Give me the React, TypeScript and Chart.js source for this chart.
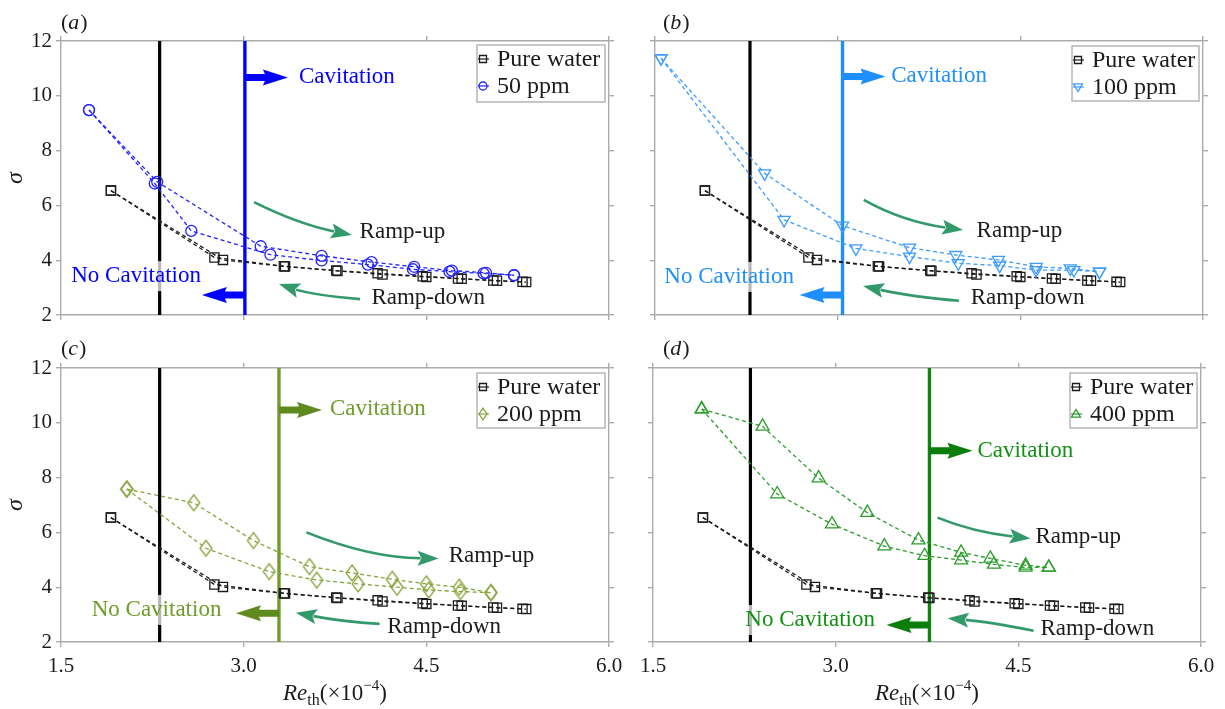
import { useEffect, useRef } from "react";
import { Chart, registerables } from "chart.js";

Chart.register(...registerables);

type Pt = [number, number];

// Re_th (x10^-4) vs cavitation number sigma; each fluid has a ramp-up and a ramp-down branch
const waterUp: Pt[] = [[1.91, 6.54], [2.76, 4.10], [3.33, 3.78], [3.76, 3.62], [4.10, 3.52], [4.47, 3.41], [4.76, 3.33], [5.05, 3.26], [5.29, 3.21]];
const waterDown: Pt[] = [[1.91, 6.54], [2.83, 4.01], [3.34, 3.77], [3.77, 3.61], [4.14, 3.48], [4.50, 3.39], [4.79, 3.32], [5.08, 3.25], [5.32, 3.20]];

const ppm50Up: Pt[] = [[1.73, 9.48], [2.29, 6.86], [3.14, 4.51], [3.64, 4.16], [4.05, 3.93], [4.40, 3.76], [4.71, 3.62], [4.99, 3.54], [5.22, 3.45]];
const ppm50Down: Pt[] = [[1.73, 9.48], [2.27, 6.80], [2.57, 5.07], [3.22, 4.20], [3.64, 3.99], [4.02, 3.84], [4.39, 3.67], [4.69, 3.58], [4.97, 3.52], [5.22, 3.45]];

const ppm100Up: Pt[] = [[1.55, 11.37], [2.40, 7.17], [3.04, 5.26], [3.59, 4.46], [3.97, 4.19], [4.32, 4.01], [4.63, 3.76], [4.91, 3.70], [5.15, 3.58]];
const ppm100Down: Pt[] = [[1.55, 11.37], [2.56, 5.47], [3.15, 4.43], [3.59, 4.13], [3.99, 3.89], [4.33, 3.80], [4.63, 3.64], [4.94, 3.64], [5.15, 3.58]];

const ppm200Up: Pt[] = [[2.04, 7.58], [2.59, 7.08], [3.08, 5.70], [3.54, 4.75], [3.89, 4.52], [4.22, 4.29], [4.50, 4.12], [4.77, 4.00], [5.03, 3.80]];
const ppm200Down: Pt[] = [[2.04, 7.58], [2.69, 5.42], [3.21, 4.57], [3.60, 4.26], [3.94, 4.12], [4.26, 4.00], [4.52, 3.90], [4.78, 3.84], [5.03, 3.80]];

const ppm400Up: Pt[] = [[1.90, 10.50], [2.40, 9.87], [2.86, 7.98], [3.26, 6.72], [3.68, 5.72], [4.03, 5.27], [4.27, 5.05], [4.56, 4.80], [4.75, 4.72]];
const ppm400Down: Pt[] = [[1.90, 10.50], [2.52, 7.40], [2.97, 6.30], [3.40, 5.50], [3.73, 5.15], [4.03, 4.99], [4.30, 4.83], [4.56, 4.72], [4.75, 4.72]];

// Cavitation inception Reynolds numbers (water, polymer) for each panel
const onsetWater = [2.31, 2.28, 2.31, 2.30];
const onsetPolymer = [3.01, 3.04, 3.29, 3.77];

const seriesNames = ["Pure water", "50 ppm", "100 ppm", "200 ppm", "400 ppm"];
const xTicks = [1.5, 3.0, 4.5, 6.0];
const yTicks = [2, 4, 6, 8, 10, 12];

const FONT = "'Liberation Serif', 'Times New Roman', 'DejaVu Serif', serif";
const AXIS = "#ababab";
const RAMP = "#32996a";
const INK = "#1c1c1c";

type Marker = "square" | "circle" | "triDown" | "diamond" | "triUp";
interface Curve { from: Pt; via: Pt; to: Pt }
interface Panel {
  letter: string;
  box: { left: number; top: number; width: number; height: number };
  plot: { left: number; top: number; right: number; bottom: number };
  name: string;
  up: Pt[];
  down: Pt[];
  marker: Marker;
  markColor: string;
  lineColor: string;
  textColor: string;
  arrowColor: string;
  onsetW: number;
  onsetP: number;
  xLabels: boolean;
  yLabels: boolean;
  cavText: Pt;
  cavArrowY: number;
  noCavText: Pt;
  noCavArrowY: number;
  rampUp: Curve;
  rampUpText: Pt;
  rampDown: Curve;
  rampDownText: Pt;
  legend: { left: number; top: number; right: number; bottom: number };
  letterAt: [number, number];
}

const panels: Panel[] = [
  {
    letter: "a",
    box: { left: 0, top: 0, width: 635, height: 335 },
    plot: { left: 61, top: 41, right: 609, bottom: 315 },
    name: seriesNames[1], up: ppm50Up, down: ppm50Down, marker: "circle",
    markColor: "#2323ff", lineColor: "#0000ff", textColor: "#0000ff", arrowColor: "#0000ff",
    onsetW: onsetWater[0], onsetP: onsetPolymer[0], xLabels: false, yLabels: true,
    cavText: [3.454, 10.69], cavArrowY: 10.67, noCavText: [2.649, 3.42], noCavArrowY: 2.73,
    rampUp: { from: [3.085, 6.12], via: [3.447, 5.32], to: [3.889, 4.92] }, rampUpText: [3.952, 5.03],
    rampDown: { from: [3.955, 2.58], via: [3.565, 2.73], to: [3.29, 3.13] }, rampDownText: [4.049, 2.62],
    legend: { left: 477, top: 45, right: 605, bottom: 102 }, letterAt: [61, 29],
  },
  {
    letter: "b",
    box: { left: 595, top: 0, width: 630, height: 335 },
    plot: { left: 655, top: 41, right: 1203, bottom: 315 },
    name: seriesNames[2], up: ppm100Up, down: ppm100Down, marker: "triDown",
    markColor: "#3d9cff", lineColor: "#1e8fff", textColor: "#1e8fff", arrowColor: "#1e8fff",
    onsetW: onsetWater[1], onsetP: onsetPolymer[1], xLabels: false, yLabels: false,
    cavText: [3.439, 10.72], cavArrowY: 10.7, noCavText: [2.641, 3.39], noCavArrowY: 2.73,
    rampUp: { from: [3.214, 6.2], via: [3.533, 5.41], to: [4.03, 5.1] }, rampUpText: [4.141, 5.07],
    rampDown: { from: [3.996, 2.52], via: [3.61, 2.66], to: [3.208, 3.06] }, rampDownText: [4.093, 2.62],
    legend: { left: 1072, top: 46, right: 1199, bottom: 101 }, letterAt: [663, 29],
  },
  {
    letter: "c",
    box: { left: 0, top: 330, width: 635, height: 379 },
    plot: { left: 61, top: 368, right: 609, bottom: 642 },
    name: seriesNames[3], up: ppm200Up, down: ppm200Down, marker: "diamond",
    markColor: "#88a33c", lineColor: "#6f9c2a", textColor: "#6f9c2a", arrowColor: "#5f8a1e",
    onsetW: onsetWater[2], onsetP: onsetPolymer[2], xLabels: true, yLabels: true,
    cavText: [3.709, 10.5], cavArrowY: 10.47, noCavText: [2.817, 3.17], noCavArrowY: 3.05,
    rampUp: { from: [3.515, 6.0], via: [4.04, 5.07], to: [4.6, 5.05] }, rampUpText: [4.684, 5.14],
    rampDown: { from: [4.116, 2.66], via: [3.81, 2.74], to: [3.428, 3.07] }, rampDownText: [4.18, 2.55],
    legend: { left: 477, top: 373, right: 605, bottom: 428 }, letterAt: [61, 355],
  },
  {
    letter: "d",
    box: { left: 595, top: 330, width: 630, height: 379 },
    plot: { left: 653, top: 368, right: 1201, bottom: 642 },
    name: seriesNames[4], up: ppm400Up, down: ppm400Down, marker: "triUp",
    markColor: "#2a9d2a", lineColor: "#0f870f", textColor: "#129212", arrowColor: "#0a7d0a",
    onsetW: onsetWater[3], onsetP: onsetPolymer[3], xLabels: true, yLabels: false,
    cavText: [4.164, 8.97], cavArrowY: 8.98, noCavText: [3.323, 2.8], noCavArrowY: 2.62,
    rampUp: { from: [3.836, 6.54], via: [4.13, 6.01], to: [4.6, 5.78] }, rampUpText: [4.64, 5.84],
    rampDown: { from: [4.625, 2.41], via: [4.27, 2.73], to: [3.92, 2.865] }, rampDownText: [4.682, 2.47],
    legend: { left: 1070, top: 373, right: 1197, bottom: 428 }, letterAt: [663, 355],
  },
];

function diamondImage(color: string): HTMLCanvasElement {
  const c = document.createElement("canvas");
  c.width = 16;
  c.height = 20;
  const g = c.getContext("2d")!;
  g.strokeStyle = color;
  g.lineWidth = 1.3;
  g.beginPath();
  g.moveTo(8, 2);
  g.lineTo(14, 10);
  g.lineTo(8, 18);
  g.lineTo(2, 10);
  g.closePath();
  g.stroke();
  return c;
}

function markerStyle(kind: Marker, color: string) {
  switch (kind) {
    case "square": return { pointStyle: "rect", pointRadius: 6.5, pointRotation: 0 };
    case "circle": return { pointStyle: "circle", pointRadius: 5.5, pointRotation: 0 };
    case "triDown": return { pointStyle: "triangle", pointRadius: 7, pointRotation: 180 };
    case "triUp": return { pointStyle: "triangle", pointRadius: 7.5, pointRotation: 0 };
    default: return { pointStyle: diamondImage(color), pointRadius: 6, pointRotation: 0 };
  }
}

function drawMarker(ctx: CanvasRenderingContext2D, kind: Marker, x: number, y: number, s: number, color: string) {
  ctx.save();
  ctx.strokeStyle = color;
  ctx.lineWidth = 1.3;
  ctx.setLineDash([]);
  ctx.beginPath();
  if (kind === "square") ctx.rect(x - s / 2, y - s / 2, s, s);
  else if (kind === "circle") ctx.arc(x, y, s / 2, 0, Math.PI * 2);
  else if (kind === "triDown") {
    ctx.moveTo(x - s / 2, y - s * 0.35);
    ctx.lineTo(x + s / 2, y - s * 0.35);
    ctx.lineTo(x, y + s * 0.5);
    ctx.closePath();
  } else if (kind === "triUp") {
    ctx.moveTo(x - s / 2, y + s * 0.35);
    ctx.lineTo(x + s / 2, y + s * 0.35);
    ctx.lineTo(x, y - s * 0.5);
    ctx.closePath();
  } else {
    ctx.moveTo(x, y - s * 0.65);
    ctx.lineTo(x + s * 0.45, y);
    ctx.lineTo(x, y + s * 0.65);
    ctx.lineTo(x - s * 0.45, y);
    ctx.closePath();
  }
  ctx.stroke();
  ctx.restore();
}

function blockArrow(ctx: CanvasRenderingContext2D, x0: number, y: number, dir: number, color: string) {
  const shaft = 20, head = 23, th = 7, hw = 16;
  ctx.save();
  ctx.fillStyle = color;
  ctx.beginPath();
  ctx.moveTo(x0, y - th / 2);
  ctx.lineTo(x0 + dir * shaft, y - th / 2);
  ctx.lineTo(x0 + dir * (shaft - 2), y - hw / 2);
  ctx.lineTo(x0 + dir * (shaft + head), y);
  ctx.lineTo(x0 + dir * (shaft - 2), y + hw / 2);
  ctx.lineTo(x0 + dir * shaft, y + th / 2);
  ctx.lineTo(x0, y + th / 2);
  ctx.closePath();
  ctx.fill();
  ctx.restore();
}

function curvedArrow(ctx: CanvasRenderingContext2D, p0: Pt, c: Pt, p1: Pt, color: string) {
  const head = 21, hw = 15;
  const ang = Math.atan2(p1[1] - c[1], p1[0] - c[0]);
  const bx = p1[0] - Math.cos(ang) * head;
  const by = p1[1] - Math.sin(ang) * head;
  ctx.save();
  ctx.strokeStyle = color;
  ctx.fillStyle = color;
  ctx.lineWidth = 2.6;
  ctx.setLineDash([]);
  ctx.beginPath();
  ctx.moveTo(p0[0], p0[1]);
  ctx.quadraticCurveTo(c[0], c[1], bx + Math.cos(ang) * 3, by + Math.sin(ang) * 3);
  ctx.stroke();
  const nx = -Math.sin(ang), ny = Math.cos(ang);
  ctx.beginPath();
  ctx.moveTo(p1[0], p1[1]);
  ctx.lineTo(bx + nx * hw / 2, by + ny * hw / 2);
  ctx.lineTo(bx + Math.cos(ang) * 4, by + Math.sin(ang) * 4);
  ctx.lineTo(bx - nx * hw / 2, by - ny * hw / 2);
  ctx.closePath();
  ctx.fill();
  ctx.restore();
}

function decorations(p: Panel) {
  return {
    id: "decor-" + p.letter,
    afterDatasetsDraw(chart: Chart) {
      const ctx = chart.ctx;
      const xs = chart.scales.x, ys = chart.scales.y;
      const X = (v: number) => xs.getPixelForValue(v);
      const Y = (v: number) => ys.getPixelForValue(v);
      const P = (q: Pt): Pt => [X(q[0]), Y(q[1])];
      const big = `23px ${FONT}`;

      ctx.save();
      ctx.font = big;
      ctx.textBaseline = "middle";

      // "No Cavitation" sits on a translucent backing that softens the onset line beneath it
      const nc = "No Cavitation";
      const ncw = ctx.measureText(nc).width;
      const [ncx, ncy] = P(p.noCavText);
      ctx.fillStyle = "rgba(255,255,255,0.72)";
      ctx.fillRect(ncx - ncw - 2, ncy - 15, ncw + 4, 30);
      ctx.fillStyle = p.textColor;
      ctx.textAlign = "right";
      ctx.fillText(nc, ncx, ncy);

      ctx.textAlign = "left";
      const [cx, cy] = P(p.cavText);
      ctx.fillText("Cavitation", cx, cy);

      ctx.fillStyle = INK;
      const [ux, uy] = P(p.rampUpText);
      ctx.fillText("Ramp-up", ux, uy);
      const [dx, dy] = P(p.rampDownText);
      ctx.fillText("Ramp-down", dx, dy);

      const lineX = X(p.onsetP);
      blockArrow(ctx, lineX, Y(p.cavArrowY), 1, p.arrowColor);
      blockArrow(ctx, lineX, Y(p.noCavArrowY), -1, p.arrowColor);

      curvedArrow(ctx, P(p.rampUp.from), P(p.rampUp.via), P(p.rampUp.to), RAMP);
      curvedArrow(ctx, P(p.rampDown.from), P(p.rampDown.via), P(p.rampDown.to), RAMP);
      ctx.restore();
    },
    afterDraw(chart: Chart) {
      const ctx = chart.ctx;
      const ox = p.box.left, oy = p.box.top;
      ctx.save();

      // legend
      const lg = p.legend;
      const lx = lg.left - ox, ly = lg.top - oy;
      ctx.fillStyle = "#ffffff";
      ctx.fillRect(lx, ly, lg.right - lg.left, lg.bottom - lg.top);
      ctx.strokeStyle = AXIS;
      ctx.lineWidth = 1.3;
      ctx.strokeRect(lx, ly, lg.right - lg.left, lg.bottom - lg.top);
      const rows: [string, Marker, string, number][] = [
        [seriesNames[0], "square", INK, 7],
        [p.name, p.marker, p.markColor, p.marker === "circle" ? 8 : 9],
      ];
      rows.forEach(([label, kind, color, size], i) => {
        const ry = ly + 14 + i * 27;
        ctx.strokeStyle = color;
        ctx.lineWidth = 1.2;
        ctx.beginPath();
        ctx.moveTo(lx + 1, ry);
        ctx.lineTo(lx + 12, ry);
        ctx.stroke();
        drawMarker(ctx, kind, lx + 6, ry, size, color);
        ctx.fillStyle = INK;
        ctx.font = `24px ${FONT}`;
        ctx.textAlign = "left";
        ctx.textBaseline = "middle";
        ctx.fillText(label, lx + 20, ry + 1);
      });

      // panel letter (a), (b), ...
      ctx.fillStyle = INK;
      ctx.textBaseline = "alphabetic";
      ctx.textAlign = "left";
      let tx = p.letterAt[0] - ox;
      const ty = p.letterAt[1] - oy;
      ctx.font = `22px ${FONT}`;
      ctx.fillText("(", tx, ty);
      tx += ctx.measureText("(").width;
      ctx.font = `italic 22px ${FONT}`;
      ctx.fillText(p.letter, tx, ty);
      tx += ctx.measureText(p.letter).width + 1;
      ctx.font = `22px ${FONT}`;
      ctx.fillText(")", tx, ty);

      const area = chart.chartArea;
      // y-axis title
      if (p.yLabels) {
        ctx.save();
        ctx.translate(16, (area.top + area.bottom) / 2);
        ctx.rotate(-Math.PI / 2);
        ctx.font = `italic 24px ${FONT}`;
        ctx.textAlign = "center";
        ctx.textBaseline = "middle";
        ctx.fillText("σ", 0, 0);
        ctx.restore();
      }

      // x-axis title: Re_th(×10^-4)
      if (p.xLabels) {
        const parts: [string, string, number][] = [
          ["Re", `italic 23px ${FONT}`, 0],
          ["th", `16px ${FONT}`, 5],
          ["(×10", `23px ${FONT}`, 0],
          ["−4", `15px ${FONT}`, -10],
          [")", `23px ${FONT}`, 0],
        ];
        let total = 0;
        parts.forEach(([s, f]) => { ctx.font = f; total += ctx.measureText(s).width; });
        let x = (area.left + area.right) / 2 - total / 2;
        const base = 700 - oy;
        ctx.textBaseline = "alphabetic";
        parts.forEach(([s, f, dy]) => {
          ctx.font = f;
          ctx.fillText(s, x, base + dy);
          x += ctx.measureText(s).width;
        });
      }
      ctx.restore();
    },
  };
}

function buildChart(canvas: HTMLCanvasElement, p: Panel) {
  const toXY = (pts: Pt[]) => pts.map(([x, y]) => ({ x, y }));
  const poly = markerStyle(p.marker, p.markColor);
  const water = markerStyle("square", INK);
  const seriesBase = { showLine: true, borderDash: [4, 3], borderWidth: 1.3, pointBorderWidth: 1.3, pointBackgroundColor: "rgba(0,0,0,0)" };
  const datasets: any[] = [
    { ...seriesBase, ...poly, data: toXY(p.up), borderColor: p.markColor, pointBorderColor: p.markColor, order: 1 },
    { ...seriesBase, ...poly, data: toXY(p.down), borderColor: p.markColor, pointBorderColor: p.markColor, order: 1 },
    { ...seriesBase, ...water, data: toXY(waterUp), borderColor: INK, pointBorderColor: INK, order: 2 },
    { ...seriesBase, ...water, data: toXY(waterDown), borderColor: INK, pointBorderColor: INK, order: 2 },
    { showLine: true, data: [{ x: p.onsetW, y: 2 }, { x: p.onsetW, y: 12 }], borderColor: "#000000", borderWidth: 3.2, pointRadius: 0, order: 5 },
    { showLine: true, data: [{ x: p.onsetP, y: 2 }, { x: p.onsetP, y: 12 }], borderColor: p.lineColor, borderWidth: 3.4, pointRadius: 0, order: 4 },
  ];

  const grid = { drawOnChartArea: false, drawTicks: true, tickLength: 5, color: AXIS, lineWidth: 1.4 };
  const border = { display: true, color: AXIS, width: 1.4 };
  const tickFont = { family: FONT, size: 21 };
  const setX = (s: any) => { s.ticks = xTicks.map((v) => ({ value: v })); };
  const setY = (s: any) => { s.ticks = yTicks.map((v) => ({ value: v })); };

  return new Chart(canvas, {
    type: "scatter",
    data: { datasets },
    options: {
      animation: false,
      responsive: false,
      maintainAspectRatio: false,
      events: [],
      layout: { padding: 0 },
      plugins: { legend: { display: false }, tooltip: { enabled: false } },
      scales: {
        x: {
          type: "linear", position: "bottom", min: 1.5, max: 6,
          afterBuildTicks: setX,
          afterFit: (s: any) => { s.height = p.box.top + p.box.height - p.plot.bottom; },
          ticks: { display: p.xLabels, font: tickFont, color: INK, padding: 7, maxRotation: 0, callback: (v: any) => Number(v).toFixed(1) },
          grid, border,
        },
        x2: {
          type: "linear", position: "top", min: 1.5, max: 6,
          afterBuildTicks: setX,
          afterFit: (s: any) => { s.height = p.plot.top - p.box.top; },
          ticks: { display: false },
          grid, border,
        },
        y: {
          type: "linear", position: "left", min: 2, max: 12,
          afterBuildTicks: setY,
          afterFit: (s: any) => { s.width = p.plot.left - p.box.left; },
          ticks: { display: p.yLabels, font: tickFont, color: INK, padding: 4, callback: (v: any) => String(v) },
          grid, border,
        },
        y2: {
          type: "linear", position: "right", min: 2, max: 12,
          afterBuildTicks: setY,
          afterFit: (s: any) => { s.width = p.box.left + p.box.width - p.plot.right; },
          ticks: { display: false },
          grid, border,
        },
      },
    } as any,
    plugins: [decorations(p) as any],
  });
}

function PanelCanvas({ p }: { p: Panel }) {
  const ref = useRef<HTMLCanvasElement | null>(null);
  useEffect(() => {
    if (!ref.current) return;
    const chart = buildChart(ref.current, p);
    return () => chart.destroy();
  }, [p]);
  return (
    <canvas
      ref={ref}
      width={p.box.width}
      height={p.box.height}
      style={{ position: "absolute", left: p.box.left, top: p.box.top, width: p.box.width, height: p.box.height }}
    />
  );
}

export default function App() {
  return (
    <div style={{ position: "fixed", left: 0, top: 0, width: 1225, height: 709, background: "#ffffff", overflow: "hidden" }}>
      {panels.map((p) => (
        <PanelCanvas key={p.letter} p={p} />
      ))}
    </div>
  );
}
